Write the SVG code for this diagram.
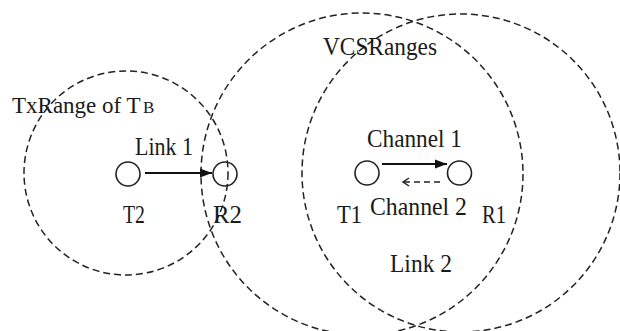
<svg xmlns="http://www.w3.org/2000/svg" width="620" height="331" viewBox="0 0 620 331">
<style>
.range{fill:none;stroke:#222;stroke-width:1.5;stroke-dasharray:7 4}
.node{fill:none;stroke:#222;stroke-width:1.6}
.lbl{font-family:"Liberation Serif","Times New Roman",serif;font-size:26px;fill:#1a1a1a}
.conn{stroke:#111;stroke-width:1.8;fill:none}
.dconn{stroke:#222;stroke-width:1.6;fill:none;stroke-dasharray:6 4}
</style>
<defs>
<marker id="arrow" markerUnits="userSpaceOnUse" markerWidth="14" markerHeight="10" refX="12" refY="5" orient="auto">
<path d="M0,0.5 L12,5 L0,9.5 Z" fill="#111"/>
</marker>
<marker id="open" markerUnits="userSpaceOnUse" markerWidth="10" markerHeight="10" refX="7" refY="5" orient="auto">
<path d="M1,1 L7,5 L1,9" fill="none" stroke="#222" stroke-width="1.5"/>
</marker>
</defs>
<g id="ranges">
<circle id="txrange" class="range" cx="126" cy="173" r="102"/>
<circle id="vcsrange-t1" class="range" cx="362" cy="174" r="161"/>
<circle id="vcsrange-r1" class="range" cx="461" cy="173" r="159"/>
<text class="lbl" font-family="Liberation Serif, serif" x="12" y="113" style="font-size:23px">TxRange of T</text>
<text class="lbl" font-family="Liberation Serif, serif" x="143" y="113" style="font-size:17px">B</text>
<text class="lbl" font-family="Liberation Serif, serif" x="323" y="55" textLength="114" lengthAdjust="spacingAndGlyphs">VCSRanges</text>
</g>
<g id="T2">
<circle class="node" cx="128" cy="174" r="12"/>
<text class="lbl" font-family="Liberation Serif, serif" x="123" y="223" textLength="22" lengthAdjust="spacingAndGlyphs">T2</text>
</g>
<g id="R2">
<circle class="node" cx="225" cy="174" r="12"/>
<text class="lbl" font-family="Liberation Serif, serif" x="213" y="223" textLength="29" lengthAdjust="spacingAndGlyphs">R2</text>
</g>
<g id="T1">
<circle class="node" cx="367" cy="173" r="12"/>
<text class="lbl" font-family="Liberation Serif, serif" x="337" y="223" textLength="25" lengthAdjust="spacingAndGlyphs">T1</text>
</g>
<g id="R1">
<circle class="node" cx="459.5" cy="173" r="12"/>
<text class="lbl" font-family="Liberation Serif, serif" x="482" y="223" textLength="24" lengthAdjust="spacingAndGlyphs">R1</text>
</g>
<g id="connectors">
<line class="conn" x1="145" y1="173" x2="212" y2="173" marker-end="url(#arrow)"/>
<line class="conn" x1="382" y1="164" x2="447" y2="164" marker-end="url(#arrow)"/>
<line class="dconn" x1="440" y1="182" x2="403" y2="182" marker-end="url(#open)"/>
<text class="lbl" font-family="Liberation Serif, serif" x="135" y="155" textLength="58" lengthAdjust="spacingAndGlyphs">Link 1</text>
<text class="lbl" font-family="Liberation Serif, serif" x="367" y="147" textLength="95" lengthAdjust="spacingAndGlyphs">Channel 1</text>
<text class="lbl" font-family="Liberation Serif, serif" x="370" y="215" textLength="97" lengthAdjust="spacingAndGlyphs">Channel 2</text>
<text class="lbl" font-family="Liberation Serif, serif" x="390" y="272" textLength="62" lengthAdjust="spacingAndGlyphs">Link 2</text>
</g>
</svg>
